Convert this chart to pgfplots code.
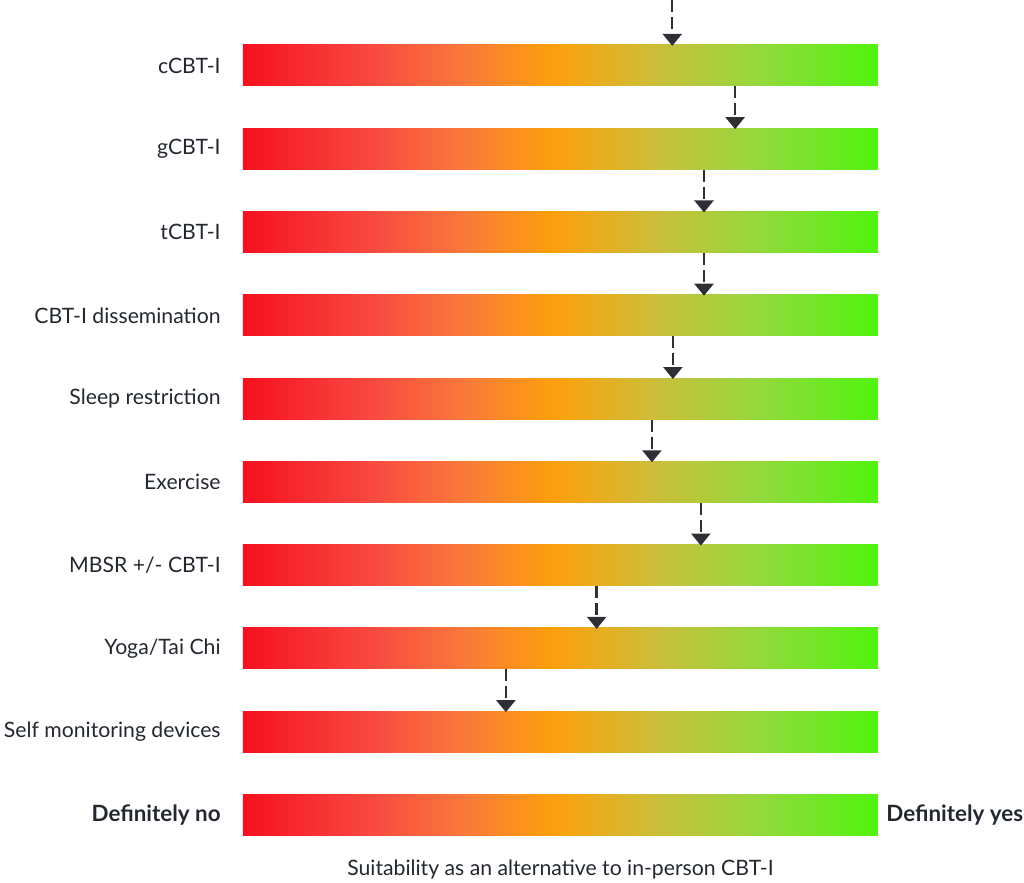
\documentclass[border=0pt]{standalone}
\usepackage{fontspec}
\setmainfont{Lato}
\usepackage{pgfplots}
\pgfplotsset{compat=1.18}
\usetikzlibrary{arrows.meta}
\definecolor{c0}{RGB}{246,16,32}
\definecolor{c1}{RGB}{248,72,64}
\definecolor{c2}{RGB}{250,122,58}
\definecolor{c3}{RGB}{253,160,12}
\definecolor{c4}{RGB}{204,190,58}
\definecolor{c5}{RGB}{145,218,60}
\definecolor{c6}{RGB}{80,244,14}
\definecolor{txt}{RGB}{35,40,48}
\definecolor{arr}{RGB}{45,47,52}
\pgfdeclarehorizontalshading{rog}{100bp}{color(0bp)=(c0); color(25bp)=(c0); color(35bp)=(c1); color(42.5bp)=(c2); color(49.5bp)=(c3); color(57.5bp)=(c4); color(66bp)=(c5); color(75bp)=(c6); color(100bp)=(c6)}
\begin{document}
\begin{tikzpicture}
\path[use as bounding box] (-121.5pt,-21.5pt) rectangle (390.5pt,420pt);
\begin{axis}[
  at={(0,0)}, anchor=south west,
  scale only axis, width=317.5pt, height=420pt,
  xmin=0, xmax=1, ymin=-0.3, ymax=9.786,
  axis line style={draw=none}, major tick length=0pt,
  xtick=\empty,
  ytick={0,1,2,3,4,5,6,7,8,9},
  yticklabels={{\fontsize{11.2}{12}\selectfont\bfseries Definitely no},Self monitoring devices,Yoga/Tai Chi,MBSR +/- CBT-I,Exercise,Sleep restriction,CBT-I dissemination,tCBT-I,gCBT-I,cCBT-I},
  yticklabel style={anchor=east, inner sep=0pt, xshift=-11pt, font=\fontsize{10.6}{12}\selectfont, text=txt},
  clip=false,
]
\pgfplotsinvokeforeach{0,...,9}{
  \addplot[draw=none, shading=rog] coordinates {(0,#1-0.246) (1,#1-0.246) (1,#1+0.246) (0,#1+0.246)} -- cycle;
}
\foreach \i/\x/\s in {9/0.676/9.786, 8/0.775/8.748, 7/0.726/7.748, 6/0.726/6.748, 5/0.677/5.748, 4/0.644/4.748, 3/0.721/3.748, 2/0.557/2.748, 1/0.414/1.748}{
  \edef\tmp{\noexpand\addplot[arr, line width=1.2pt, dash pattern=on 6pt off 2.5pt, -{Triangle[width=9.5pt,length=6pt]}] coordinates {(\x,\s) (\x,\i+0.235)};}
  \tmp
}
\node[anchor=west, inner sep=0pt, text=txt, font=\fontsize{11.2}{12}\selectfont\bfseries] at (axis cs:1,0) [xshift=4pt] {Definitely yes};
\node[anchor=center, inner sep=0pt, text=txt, font=\fontsize{10.6}{12}\selectfont] at (axis description cs:0.5,0) [yshift=-15pt] {Suitability as an alternative to in-person CBT-I};
\end{axis}
\end{tikzpicture}
\end{document}
